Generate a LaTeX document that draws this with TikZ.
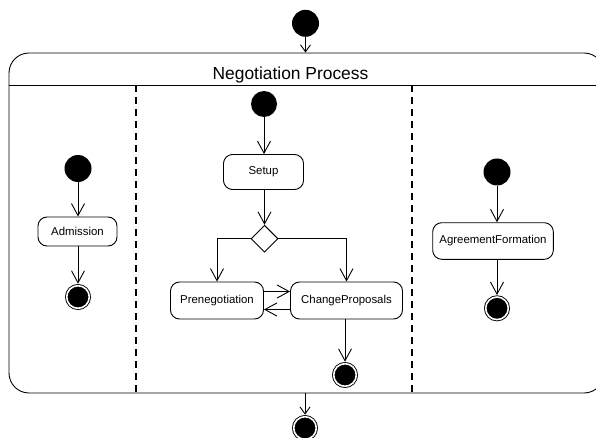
\documentclass[tikz,border=0pt]{standalone}
\usepackage{fontspec}
\setmainfont{Liberation Sans}
\usetikzlibrary{arrows.meta,shapes.geometric}
\begin{document}
\begin{tikzpicture}[x=1pt,y=-1pt,
  line width=0.9pt,
  initst/.style={circle,fill=black,draw=none,inner sep=0pt,minimum size=27pt},
  finalst/.style={circle,fill=black,draw=black,double=white,double distance=1.6pt,
     line width=0.9pt,inner sep=0pt,minimum size=22.6pt,outer sep=2pt},
  act/.style={draw,rounded corners=9pt,inner sep=0pt,font=\fontsize{11.4}{13}\selectfont},
  decis/.style={diamond,draw,fill=white,inner sep=0pt,minimum width=27pt,minimum height=27pt},
  flow/.style={-{Straight Barb[length=12pt,width=13pt]}},
  sflow/.style={-{Straight Barb[length=7pt,width=10pt]}},
  lane/.style={line width=2pt,dash pattern=on 7pt off 5pt}
]
\useasboundingbox (0,0) rectangle (596,438);

% outer activity frame
\node[draw,rounded corners=20pt,inner sep=0pt,minimum width=595pt,minimum height=340pt] (frame) at (306.5,223) {};
\coordinate (hdr) at (0,85);
\draw (frame.west |- hdr) -- (frame.east |- hdr);
\node[anchor=base,font=\fontsize{17.4}{20}\selectfont,inner sep=0pt] (title) at (290.5,80) {Negotiation Process};
\draw[lane] (136,85) -- (136,393);
\draw[lane] (412,85) -- (412,393);

% outer initial / final
\node[initst] (init0) at (305.5,23.3) {};
\node[finalst] (fin0) at (305,428) {};
\draw[sflow] (init0) -- (init0 |- frame.north);
\draw[sflow] (fin0 |- frame.south) -- (fin0);

% left lane
\node[initst] (init2) at (78,168.5) {};
\node[act,minimum width=79pt,minimum height=29pt] (adm) at (77.5,231.5) {Admission};
\node[finalst] (fin2) at (78,297) {};
\draw[flow] (init2) -- (init2 |- adm.north);
\draw[flow] (init2 |- adm.south) -- (fin2);

% middle lane
\node[initst,minimum size=26pt] (init1) at (264,104) {};
\node[act,minimum width=80pt,minimum height=35pt] (setup) at (263.5,172) {Setup};
\node[decis] (dia) at (264.5,238.7) {};
\node[act,minimum width=93pt,minimum height=37pt] (pre) at (217,300.5) {Prenegotiation};
\node[act,minimum width=112pt,minimum height=37pt] (chg) at (346.5,300.5) {ChangeProposals};
\node[finalst] (fin1) at (345,375) {};
\draw[flow] (init1) -- (init1 |- setup.north);
\draw[flow] (dia |- setup.south) -- (dia.north);
\draw[flow] (dia.west) -| (pre.north);
\draw[flow] (dia.east) -| (chg.north);
\draw[flow] ([yshift=9pt]pre.east) -- ([yshift=9pt]pre.east -| chg.west);
\draw[flow] ([yshift=-9pt]chg.west) -- ([yshift=-9pt]chg.west -| pre.east);
\draw[flow] (fin1 |- chg.south) -- (fin1);

% right lane
\node[initst] (init3) at (497,172) {};
\node[act,minimum width=120.6pt,minimum height=36.6pt] (agr) at (493,241) {AgreementFormation};
\node[finalst] (fin3) at (497,308.3) {};
\draw[flow] (init3) -- (init3 |- agr.north);
\draw[flow] (init3 |- agr.south) -- (fin3);
\end{tikzpicture}
\end{document}
